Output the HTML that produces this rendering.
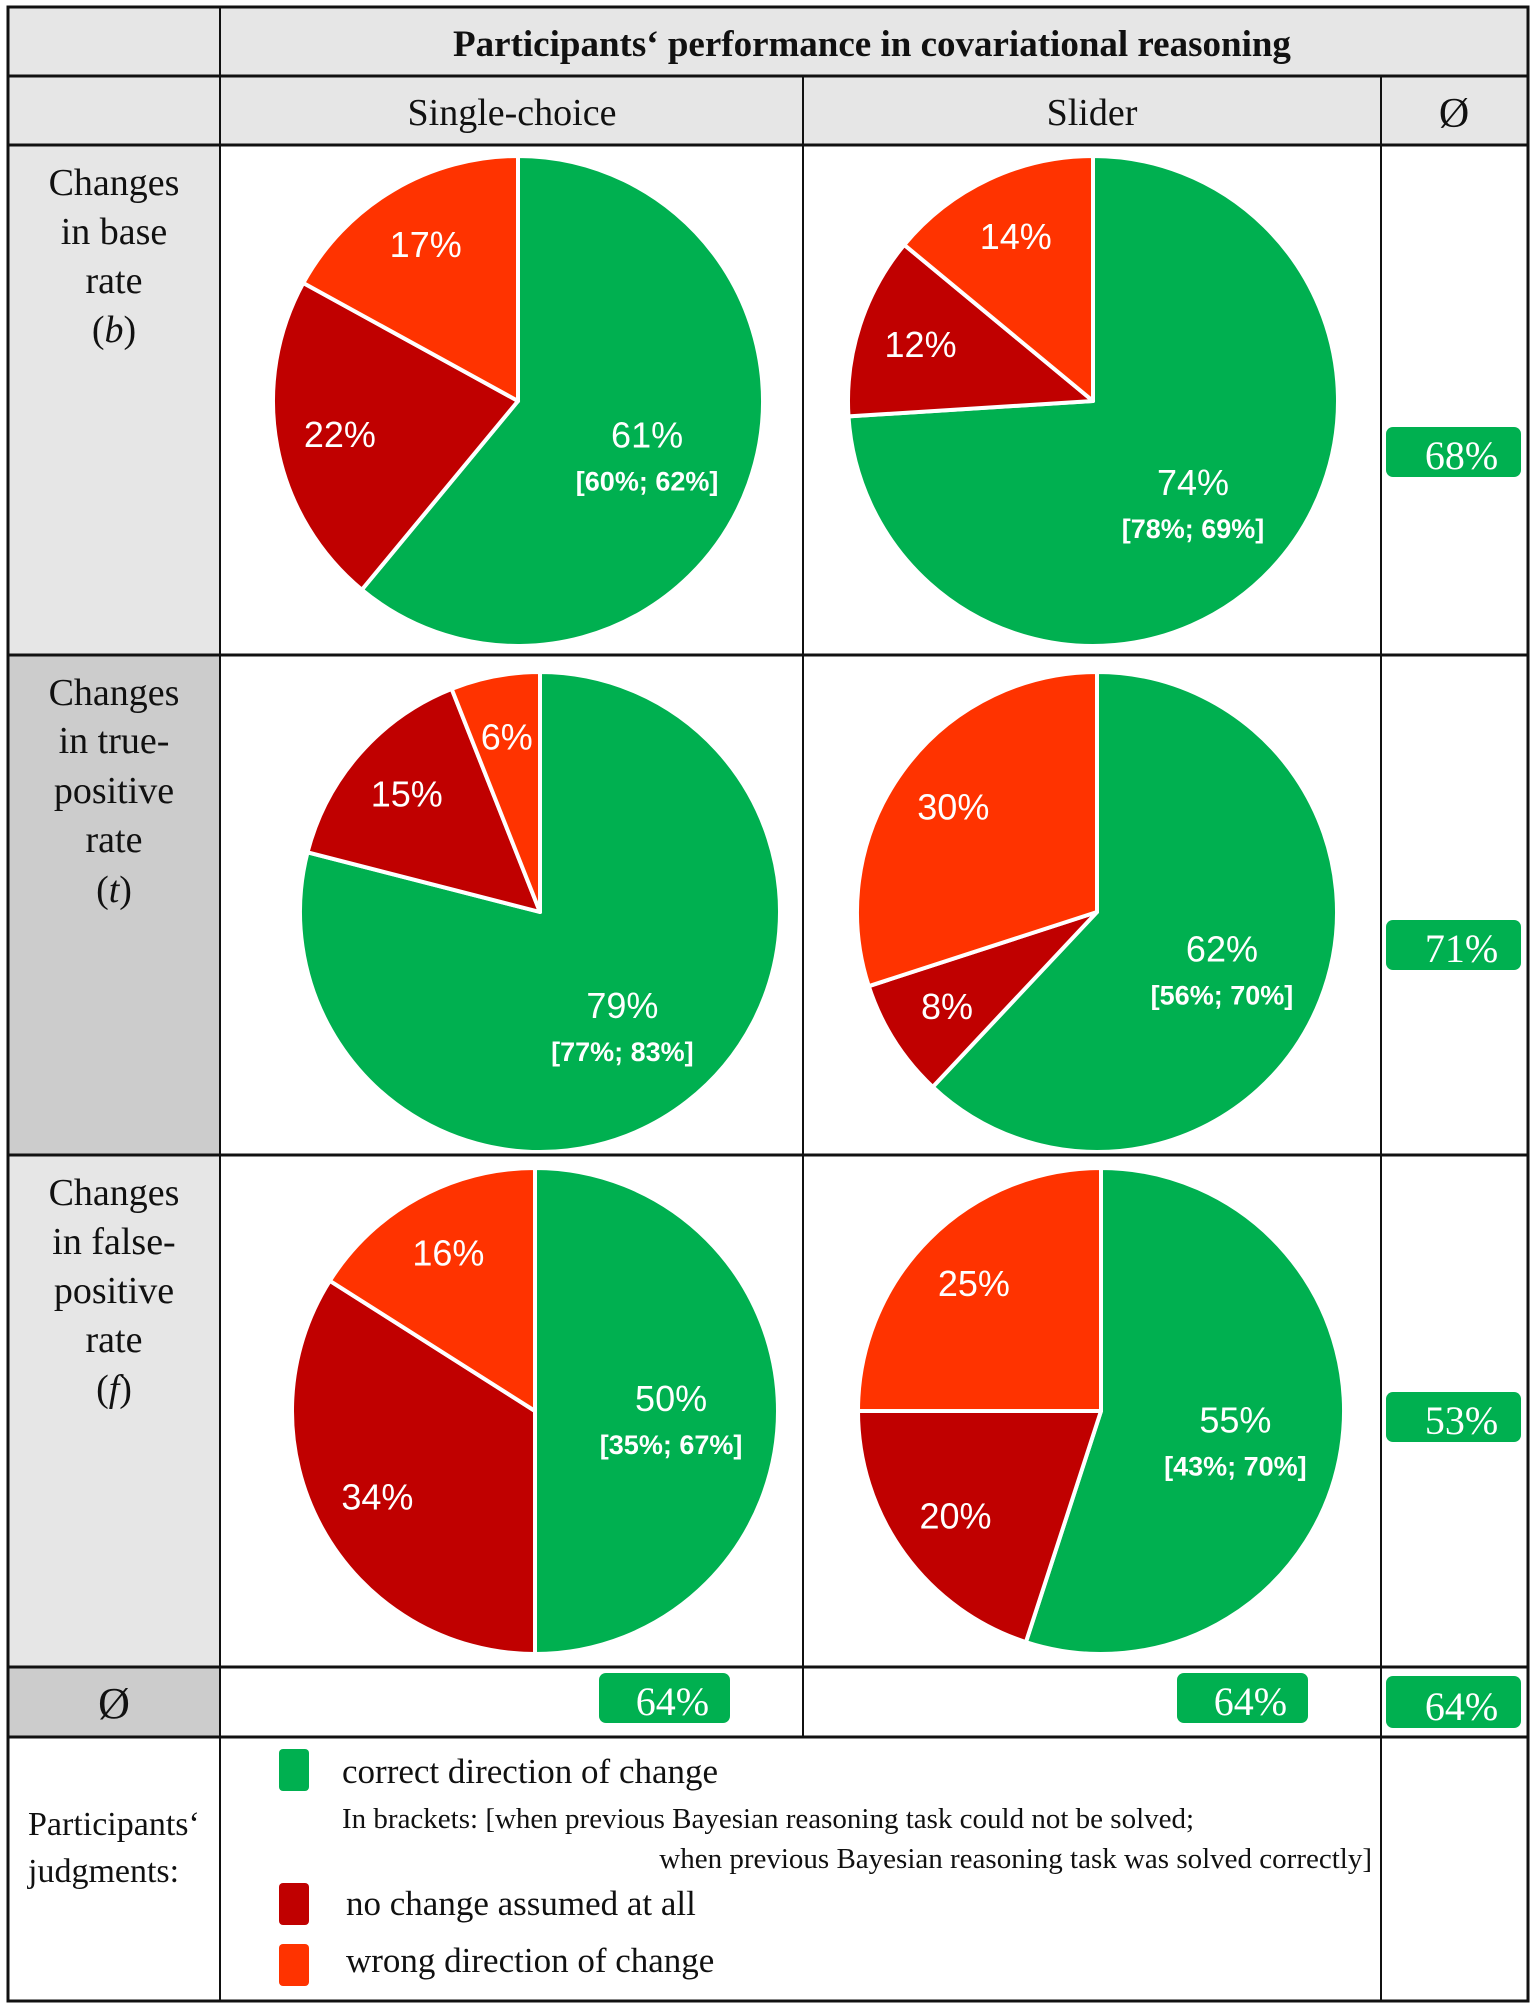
<!DOCTYPE html>
<html><head><meta charset="utf-8"><style>
html,body{margin:0;padding:0;background:#fff;}
svg{display:block;}
.tm{font-family:"Liberation Serif",serif;}
.sn{font-family:"Liberation Sans",sans-serif;}
</style></head><body>
<svg id="chart" width="1535" height="2006" viewBox="0 0 1535 2006" xmlns="http://www.w3.org/2000/svg">
<g>
<rect x="8" y="7" width="1520" height="138" fill="#e6e6e6"/>
<rect x="8" y="145" width="212" height="510" fill="#e6e6e6"/>
<rect x="8" y="655" width="212" height="500" fill="#cccccc"/>
<rect x="8" y="1155" width="212" height="512" fill="#e6e6e6"/>
<rect x="8" y="1667" width="212" height="70" fill="#cccccc"/>
</g>
<g id="pies"></g>
<g stroke="#111" fill="none">
<rect x="8" y="7" width="1520" height="1994" stroke-width="3"/>
<line x1="220" y1="7" x2="220" y2="2001" stroke-width="2"/>
<line x1="803" y1="76" x2="803" y2="1737" stroke-width="2"/>
<line x1="1381" y1="76" x2="1381" y2="2001" stroke-width="2"/>
<line x1="8" y1="76" x2="1528" y2="76" stroke-width="3"/>
<line x1="8" y1="145" x2="1528" y2="145" stroke-width="3"/>
<line x1="8" y1="655" x2="1528" y2="655" stroke-width="3"/>
<line x1="8" y1="1155" x2="1528" y2="1155" stroke-width="3"/>
<line x1="8" y1="1667" x2="1528" y2="1667" stroke-width="3"/>
<line x1="8" y1="1737" x2="1528" y2="1737" stroke-width="3"/>
</g>
<g class="tm" fill="#111" text-anchor="middle">
<text x="872" y="56" font-size="37" font-weight="bold">Participants‘ performance in covariational reasoning</text>
<text x="512" y="125" font-size="38">Single-choice</text>
<text x="1092" y="125" font-size="38">Slider</text>
<text x="1454" y="127" font-size="42">Ø</text>
<text font-size="38"><tspan x="114" y="195">Changes</tspan><tspan x="114" y="244">in base</tspan><tspan x="114" y="293">rate</tspan><tspan x="114" y="342">(<tspan font-style="italic">b</tspan>)</tspan></text>
<text font-size="38"><tspan x="114" y="705">Changes</tspan><tspan x="114" y="753">in true-</tspan><tspan x="114" y="803">positive</tspan><tspan x="114" y="852">rate</tspan><tspan x="114" y="902">(<tspan font-style="italic">t</tspan>)</tspan></text>
<text font-size="38"><tspan x="114" y="1205">Changes</tspan><tspan x="114" y="1254">in false-</tspan><tspan x="114" y="1303">positive</tspan><tspan x="114" y="1352">rate</tspan><tspan x="114" y="1401">(<tspan font-style="italic">f</tspan>)</tspan></text>
<text x="114" y="1718" font-size="44">Ø</text>
</g>
<g id="avgs"></g>
<g class="tm" fill="#111">
<text font-size="34"><tspan x="28" y="1835">Participants‘</tspan><tspan x="28" y="1882">judgments:</tspan></text>
<rect x="279" y="1749" width="30" height="42" rx="4" fill="#00b050"/>
<text x="342" y="1783" font-size="35">correct direction of change</text>
<text x="342" y="1828" font-size="29">In brackets: [when previous Bayesian reasoning task could not be solved;</text>
<text x="1372" y="1868" font-size="29" text-anchor="end">when previous Bayesian reasoning task was solved correctly]</text>
<rect x="279" y="1883" width="30" height="42" rx="4" fill="#c00000"/>
<text x="346" y="1915" font-size="35">no change assumed at all</text>
<rect x="279" y="1944" width="30" height="42" rx="4" fill="#ff3300"/>
<text x="346" y="1972" font-size="35">wrong direction of change</text>
</g>
</svg>
<script>
// Data
const conditions = ["base-rate","true-positive","false-positive"];
const formats = ["single-choice","slider"];
const correct = [[61,74],[79,62],[50,55]];
const noChange = [[22,12],[15,8],[34,20]];
const wrong = [[17,14],[6,30],[16,25]];
const brackets = [["[60%; 62%]","[78%; 69%]"],["[77%; 83%]","[56%; 70%]"],["[35%; 67%]","[43%; 70%]"]];
const rowAverages = [68,71,53];
const colAverages = [64,64];
const overallAverage = 64;

const NS="http://www.w3.org/2000/svg";
const colors=["#00b050","#c00000","#ff3300"];
const centersX=[[518,1093],[540,1097],[535,1101]];
const centersY=[401,912,1411];
const radii=[245,240,243];
const pies=document.getElementById('pies');
function pt(cx,cy,r,frac){const a=frac*2*Math.PI;return [cx+r*Math.sin(a),cy-r*Math.cos(a)];}
function mk(tag,attrs,parent){const e=document.createElementNS(NS,tag);for(const k in attrs)e.setAttribute(k,attrs[k]);parent.appendChild(e);return e;}
for(let i=0;i<3;i++){for(let j=0;j<2;j++){
  const cx=centersX[i][j],cy=centersY[i],r=radii[i];
  const vals=[correct[i][j],noChange[i][j],wrong[i][j]];
  const tot=vals[0]+vals[1]+vals[2];
  const g=mk('g',{},pies);
  
  
  let start=0;
  const names=['correct','no-change','wrong'];
  vals.forEach((v,k)=>{
    const f=v/tot,end=start+f;
    const [x1,y1]=pt(cx,cy,r,start),[x2,y2]=pt(cx,cy,r,end);
    const p=mk('path',{d:`M${cx},${cy} L${x1},${y1} A${r},${r} 0 ${f>0.5?1:0} 1 ${x2},${y2} Z`,fill:colors[k],stroke:'#fff','stroke-width':4,'stroke-linejoin':'round'},g);
    
    
    const mid=(start+end)/2;
    const [lx,ly]=pt(cx,cy,r*(k===0?0.56:0.74),mid);
    const t=mk('text',{x:lx,y:k===0?ly:ly+12,'text-anchor':'middle',fill:'#fff','font-size':36,class:'sn'},g);
    t.textContent=v+'%';
    
    
    if(k===0){
      const b=mk('text',{x:lx,y:ly+43,'text-anchor':'middle',fill:'#fff','font-size':27,'font-weight':'bold',class:'sn'},g);
      b.textContent=brackets[i][j];
      
      
    }
    start=end;
  });
}}
const avgs=document.getElementById('avgs');
function box(x,y,w,h,v,name){
  const r=mk('rect',{x:x,y:y,width:w,height:h,rx:7,fill:'#00b050'},avgs);
  
  
  const t=mk('text',{x:x+w*0.56,y:y+h-8,'text-anchor':'middle',fill:'#fff','font-size':40,class:'tm'},avgs);
  t.textContent=v+'%';
  
  
}
const rowBoxY=[427,920,1392];
rowAverages.forEach((v,i)=>box(1386,rowBoxY[i],135,50,v,'average-'+conditions[i]));
const colBoxX=[599,1177];
colAverages.forEach((v,j)=>box(colBoxX[j],1673,131,50,v,'average-'+formats[j]));
box(1386,1676,135,52,overallAverage,'average-overall');
</script>
</body></html>
